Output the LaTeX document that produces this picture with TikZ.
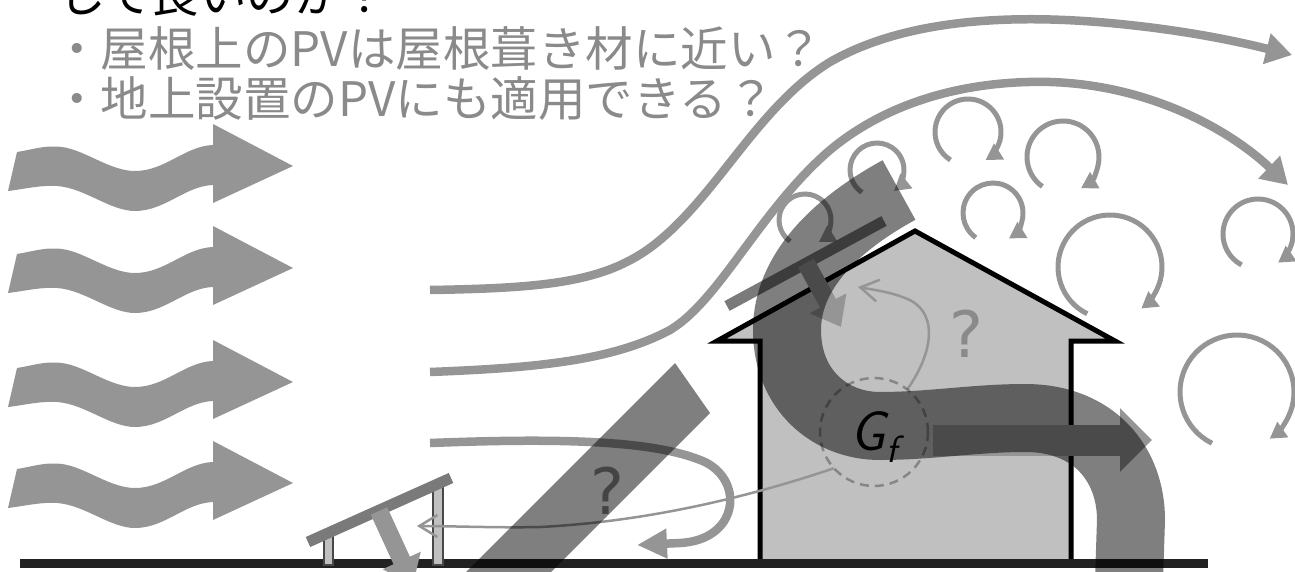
\documentclass[tikz,border=0pt]{standalone}
\usepackage{fontspec}
\newfontfamily\jpfont{Noto Sans CJK JP}
\newfontfamily\qfont{DejaVu Sans}
\usetikzlibrary{arrows.meta}

\definecolor{flowgray}{HTML}{959595}
\definecolor{labelgray}{HTML}{8A8A8A}
\definecolor{wallfill}{HTML}{C0C0C0}
\definecolor{groundcol}{HTML}{222222}
\definecolor{panelgray}{HTML}{7A7A7A}
\definecolor{postedge}{HTML}{484848}

\tikzset{
  windwave/.pic={
    \fill[flowgray] (17,-14) .. controls (35,-17) and (45,-21) .. (62,-19)
      .. controls (85,-16) and (110,5) .. (135,5)
      .. controls (165,5) and (185,-20) .. (213,-21)
      -- (213,-42) -- (293,0) -- (213,37) -- (213,19)
      .. controls (185,20) and (165,45) .. (135,45)
      .. controls (110,45) and (85,22) .. (57,20)
      .. controls (40,19) and (25,23) .. (8,25) -- cycle;
  },
  stream/.style={draw=flowgray, line width=8.5pt, -{Triangle[length=26pt,width=30pt]}},
  eddy/.style={draw=flowgray, line width=5pt, -{Triangle[length=16pt,width=18pt]}},
  thinflow/.style={draw=flowgray, line width=2.5pt, -{Straight Barb[length=18pt,width=22pt]}},
  heatarrow/.style={draw=flowgray, line width=18pt, -{Triangle[length=27pt,width=40pt]}},
  pvpanel/.style={draw=panelgray, line width=11pt},
  pvpost/.style={fill=wallfill, draw=postedge, line width=2pt},
  shade/.style={fill=black, fill opacity=0.5},
  qmark/.style={text=labelgray, inner sep=0, font=\qfont\fontsize{64}{64}\selectfont},
  jptext/.style={inner sep=0, font=\jpfont\fontsize{47.5}{47.5}\selectfont},
}

% circular eddy: centre, radius, start angle, end angle (y axis points down)
\newcommand\eddyarc[4]{\draw[eddy] (#1) ++(#3:#2) arc[start angle=#3, end angle=#4, radius=#2];}

\begin{document}
\begin{tikzpicture}[x=1pt, y=-1pt]
\useasboundingbox (0,0) rectangle (1295,572);
\clip (0,0) rectangle (1295,572);

% incoming wind
\pic at (0,166) {windwave};
\pic at (0,268) {windwave};
\pic at (0,382) {windwave};
\pic at (0,483) {windwave};

% streamlines
\draw[stream] (430,290) .. controls (550,288) and (610,282) .. (660,240)
  .. controls (720,190) and (760,105) .. (830,62)
  .. controls (900,22) and (1000,12) .. (1120,24)
  .. controls (1190,31) and (1240,42) .. (1292,55);
\draw[stream] (430,372) .. controls (530,368) and (610,362) .. (670,330)
  .. controls (720,300) and (760,210) .. (830,150)
  .. controls (890,100) and (970,80) .. (1050,82)
  .. controls (1150,85) and (1230,130) .. (1288,185);
\draw[draw=flowgray, line width=8.5pt, -{Triangle[length=30pt,width=28pt]}]
  (430,443) .. controls (560,438) and (655,440) .. (705,462)
  .. controls (745,482) and (738,540) .. (680,543) -- (637,545);

% house
\draw[line width=5pt, fill=wallfill, miter limit=12]
  (760,566) -- (760,341) -- (717,341) -- (915,231) -- (1115,341) -- (1071,341) -- (1071,566);

% eddies in the wake
\eddyarc{805,220}{26}{-235}{58}
\eddyarc{877,170}{27}{-236}{51}
\eddyarc{968,132}{33}{-238}{58}
\eddyarc{1063,157}{36}{-235}{60}
\eddyarc{993,213}{30}{-235}{58}
\eddyarc{1110,267}{52}{-244}{53}
\eddyarc{1258,234}{35}{-242}{55}
\eddyarc{1237,392}{57}{-244}{55}

% ground
\draw[groundcol, line width=9pt] (20,563.5) -- (1208,563.5);

% ground-mounted PV
\draw[pvpost] (324,536) rectangle (333,565);
\draw[pvpost] (433,484) rectangle (443,565);
\draw[pvpanel] (308,542) -- (451,478);
\coordinate (gpvmid) at (379,511);
\coordinate (gpvtip) at (413,585);
\draw[heatarrow] (gpvmid) -- (gpvtip);

% rooftop PV
\draw[pvpanel] (727,306) -- (884,221);
\coordinate (rpvmid) at (806,263);
\coordinate (rpvtip) at (841,327);
\draw[heatarrow] (rpvmid) -- (rpvtip);

% G_f ring
\node[circle, minimum size=108pt, inner sep=0] (gfring) at (874,432) {};

% heat leaving the house
\draw[draw=flowgray, line width=31pt, -{Triangle[length=32pt,width=62pt]}] (933,440) -- (1152,440);

% thin connectors from G_f
\coordinate (roofin) at (858,287);
\coordinate (groundin) at (417,526);
\draw[thinflow] (gfring.52) .. controls (935,350) and (938,310) .. (905,298)
  .. controls (890,292) and (875,290) .. (roofin);
\draw[thinflow] (gfring.222) .. controls (740,500) and (640,522) .. (540,527)
  .. controls (500,528) and (450,526) .. (groundin);

% question marks
\node[qmark] (qbar) at (607,491) {?};
\node[qmark] (qhouse) at (966,334) {?};

% slanted shadow band
\fill[shade] (675,363) -- (710,413) -- (523,600) -- (438,600) -- cycle;

% flow through the house
\draw[line width=68pt, draw=black, draw opacity=0.5]
  (899,190) .. controls (835,225) and (787,272) .. (787,330)
  .. controls (787,390) and (830,426) .. (880,426)
  .. controls (930,426) and (975,418) .. (1025,418)
  .. controls (1095,418) and (1131,465) .. (1131,520) -- (1128,610);

% dashed ring and label
\draw[black, draw opacity=0.3, line width=2.5pt, dash pattern=on 9pt off 6pt] (gfring) circle[radius=54];
\node[anchor=base west, inner sep=0] (gflabel) at (850,450)
  {\fontsize{56}{56}\selectfont\sffamily\itshape G\kern1pt\raisebox{-12pt}{\fontsize{38}{38}\selectfont f}};

% headline text
\node[jptext, anchor=south west] (headtail) at (58,17) {して良いのか？};
\node[jptext, anchor=west, text=labelgray] (qroof) at (53,49) {・屋根上のPVは屋根葺き材に近い？};
\node[jptext, anchor=west, text=labelgray] (qground) at (53,99) {・地上設置のPVにも適用できる？};
\end{tikzpicture}
\end{document}
